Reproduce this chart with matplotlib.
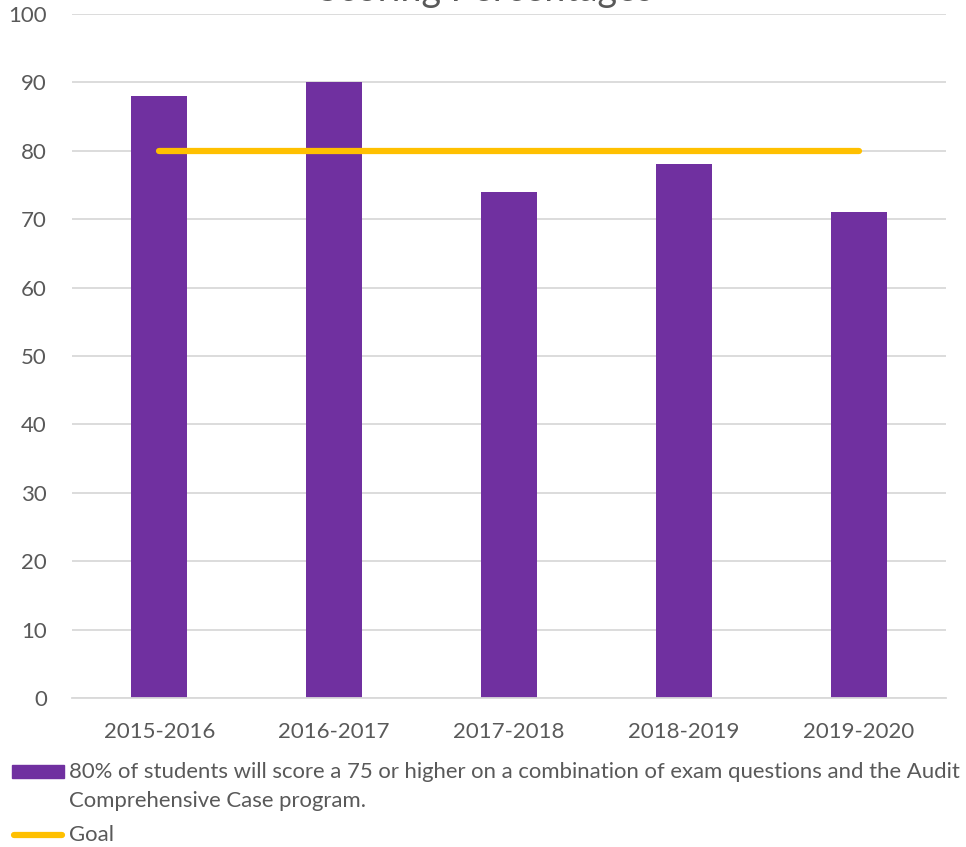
#!/usr/bin/env python3

'''
audit comprehensive case scores vs goal, bar + goal line
'''

import numpy as np
import matplotlib.pyplot as plt
from matplotlib.patches import Rectangle
from matplotlib.lines import Line2D


#==================================================================
years = ['2015-2016', '2016-2017', '2017-2018', '2018-2019', '2019-2020']
scores = [88, 90, 74, 78, 71]
goal = [80, 80, 80, 80, 80]

bar_label = ['80% of students will score a 75 or higher on a combination of exam questions and the Audit',
             'Comprehensive Case program.']
goal_label = 'Goal'
title = 'Scoring Percentages'

purple = '#7030A0'
gold = '#FFC000'
grey_txt = '#595959'

plt.rcParams['font.family'] = ['Lato', 'DejaVu Sans']

#==================================================================
def real_main():
    W, H = 966, 847
    fig = plt.figure(figsize=(W / 100, H / 100), dpi=100)
    # axes box in pixels: x 72..946, y(100)=14, y(0)=698
    ax = fig.add_axes([72 / W, 1 - 698 / H, (946 - 72) / W, (698 - 14) / H])

    x = np.arange(len(years))
    ax.bar(x, scores, width=0.32, color=purple, zorder=2)
    ax.plot(x, goal, color=gold, lw=4.5, solid_capstyle='round', zorder=3)

    ax.set_xlim(-0.5, len(years) - 0.5)
    ax.set_ylim(0, 100)
    ax.set_yticks(range(0, 101, 10))
    ax.set_xticks(x)
    ax.set_xticklabels(years)
    ax.grid(axis='y', color='#D9D9D9', lw=1.3, zorder=0)
    for s in ax.spines.values():
        s.set_visible(False)
    ax.spines['bottom'].set_visible(True)
    ax.spines['bottom'].set_color('#D9D9D9')
    ax.spines['bottom'].set_linewidth(1.3)
    ax.tick_params(length=0, labelsize=16, labelcolor=grey_txt)
    ax.tick_params(axis='x', pad=17)
    ax.tick_params(axis='y', pad=18)

    # title sits mostly above the canvas edge
    fig.text(485 / W, 1 - 1 / H, title, ha='center', va='baseline',
             fontsize=27, color=grey_txt)

    # legend drawn by hand so the swatch lines up with the first text line
    fig.patches.append(Rectangle((12 / W, 1 - 778 / H), 52 / W, 13 / H,
                                 transform=fig.transFigure, color=purple))
    for i, line in enumerate(bar_label):
        fig.text(69 / W, 1 - (778 + 29 * i) / H, line, ha='left', va='baseline',
                 fontsize=15.9, color=grey_txt)
    fig.lines.append(Line2D([14 / W, 62 / W], [1 - 835 / H, 1 - 835 / H],
                            transform=fig.transFigure, color=gold, lw=4.5,
                            solid_capstyle='round'))
    fig.text(69 / W, 1 - 841 / H, goal_label, ha='left', va='baseline',
             fontsize=15.9, color=grey_txt)

    fig.savefig('out.png', dpi=100)


#==================================================================
if __name__ == "__main__":
    real_main()
